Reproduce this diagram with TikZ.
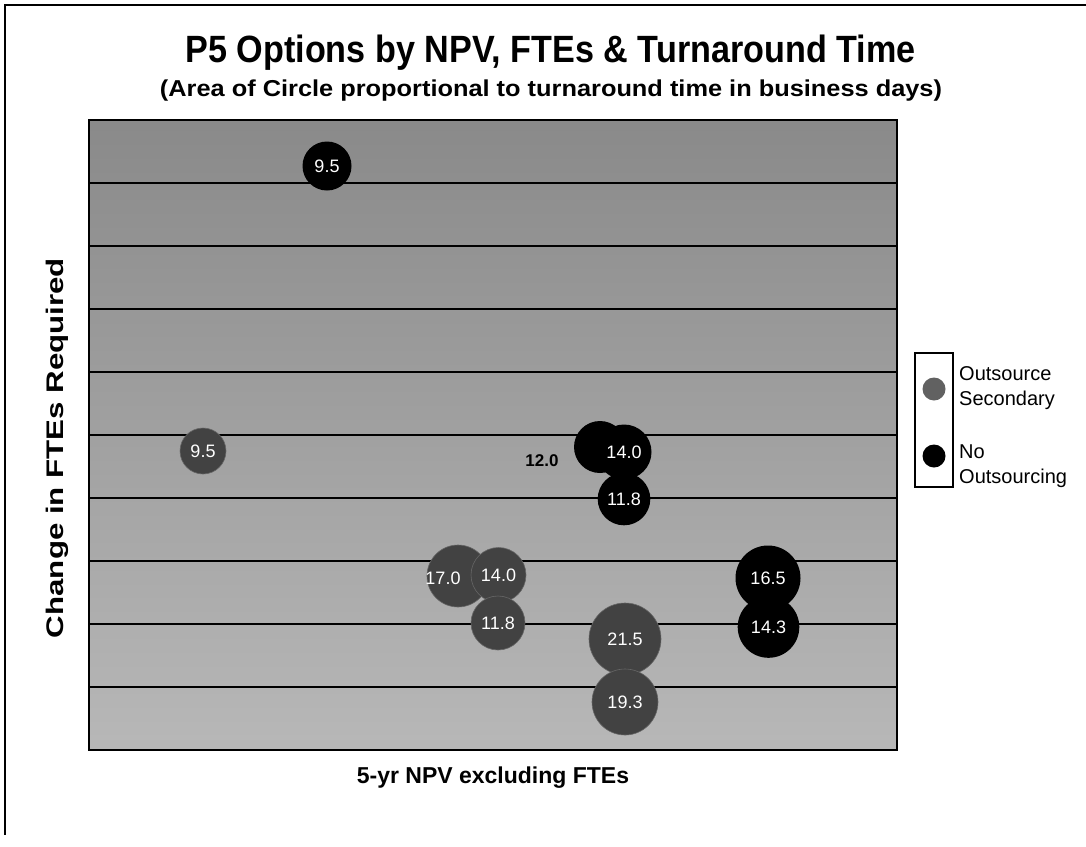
\documentclass[tikz,border=0pt]{standalone}
\usepackage{fontspec}
\setmainfont{Liberation Sans}
\usepackage{graphicx}
\tikzset{
  frameline/.style={line width=1.5pt, black},
  gridline/.style={line width=1.1pt, black},
  bubblebl/.style={circle, fill=black, inner sep=0pt, text=white, font=\fontsize{18}{20}\selectfont},
  bubblegr/.style={circle, fill=black!74, draw=black!60, line width=0.6pt, inner sep=0pt, text=white, font=\fontsize{18}{20}\selectfont},
  legtext/.style={anchor=base west, inner sep=0pt, font=\fontsize{20}{22}\selectfont},
  lbl/.style={inner sep=0pt, anchor=base}
}
\begin{document}
\begin{tikzpicture}[x=1pt, y=-1pt]
\useasboundingbox (0,0) rectangle (1086,846);
\fill[white] (0,0) rectangle (1086,846);
% outer frame
\draw[frameline] (1086,5) -- (5,5) -- (5,835);
% titles
\node[lbl] (title) at (550.5,62) {\resizebox{730pt}{\height}{\fontsize{38}{40}\selectfont\bfseries P5 Options by NPV, FTEs \& Turnaround Time}};
\node[lbl] (subtitle) at (551,96) {\resizebox{782pt}{\height}{\fontsize{23}{25}\selectfont\bfseries (Area of Circle proportional to turnaround time in business days)}};
% plot area
\fill[top color=black!46, bottom color=black!28] (89,120) rectangle (897,750);
\foreach \yy in {183,246,309,372,435,498,561,624,687}
  \draw[gridline] (89,\yy) -- (897,\yy);
\draw[line width=1.6pt] (89,120) rectangle (897,750);
% axis labels
\node[lbl] (xlab) at (493,783) {\fontsize{23}{25}\selectfont\bfseries 5-yr NPV excluding FTEs};
\node[lbl, rotate=90] (ylab) at (63,448) {\resizebox{380pt}{\height}{\fontsize{24}{26}\selectfont\bfseries Change in FTEs Required}};
% bubbles: no outsourcing (black)
\node[bubblebl, minimum size=49pt] (b95a) at (327,166) {9.5};
\node[bubblebl, minimum size=52pt] (b120) at (600,447) {};
\node[bubblebl, minimum size=55pt] (b140a) at (624,452) {14.0};
\node[bubblebl, minimum size=52.6pt] (b118a) at (624,499) {11.8};
\node[bubblebl, minimum size=65pt] (b165) at (768,578) {16.5};
\node[bubblebl, minimum size=61.6pt] (b143) at (768.5,627) {14.3};
\node[lbl, font=\fontsize{17}{19}\selectfont\bfseries] (l120) at (542,466) {12.0};
% bubbles: outsource secondary (grey)
\node[bubblegr, minimum size=46pt] (b95b) at (203,451) {9.5};
\node[bubblegr, minimum size=62pt] (b170) at (458,576) {};
\node[text=white, inner sep=0pt, font=\fontsize{18}{20}\selectfont] (l170) at (443,578) {17.0};
\node[bubblegr, minimum size=55pt] (b140b) at (498.5,575) {14.0};
\node[bubblegr, minimum size=54pt] (b118b) at (498,623) {11.8};
\node[bubblegr, minimum size=72pt] (b215) at (625,639) {21.5};
\node[bubblegr, minimum size=66pt] (b193) at (625,702) {19.3};
% legend
\draw[line width=1.2pt, fill=white] (915,353) rectangle (953,487);
\node[circle, fill=black!62, inner sep=0pt, minimum size=23pt] (leg1) at (934,389) {};
\node[circle, fill=black, inner sep=0pt, minimum size=23pt] (leg2) at (934,456) {};
\node[legtext] (lt1) at (959,380) {Outsource};
\node[legtext] (lt2) at (959,405) {Secondary};
\node[legtext] (lt3) at (959,458) {No};
\node[legtext] (lt4) at (959,483) {Outsourcing};
\end{tikzpicture}
\end{document}
